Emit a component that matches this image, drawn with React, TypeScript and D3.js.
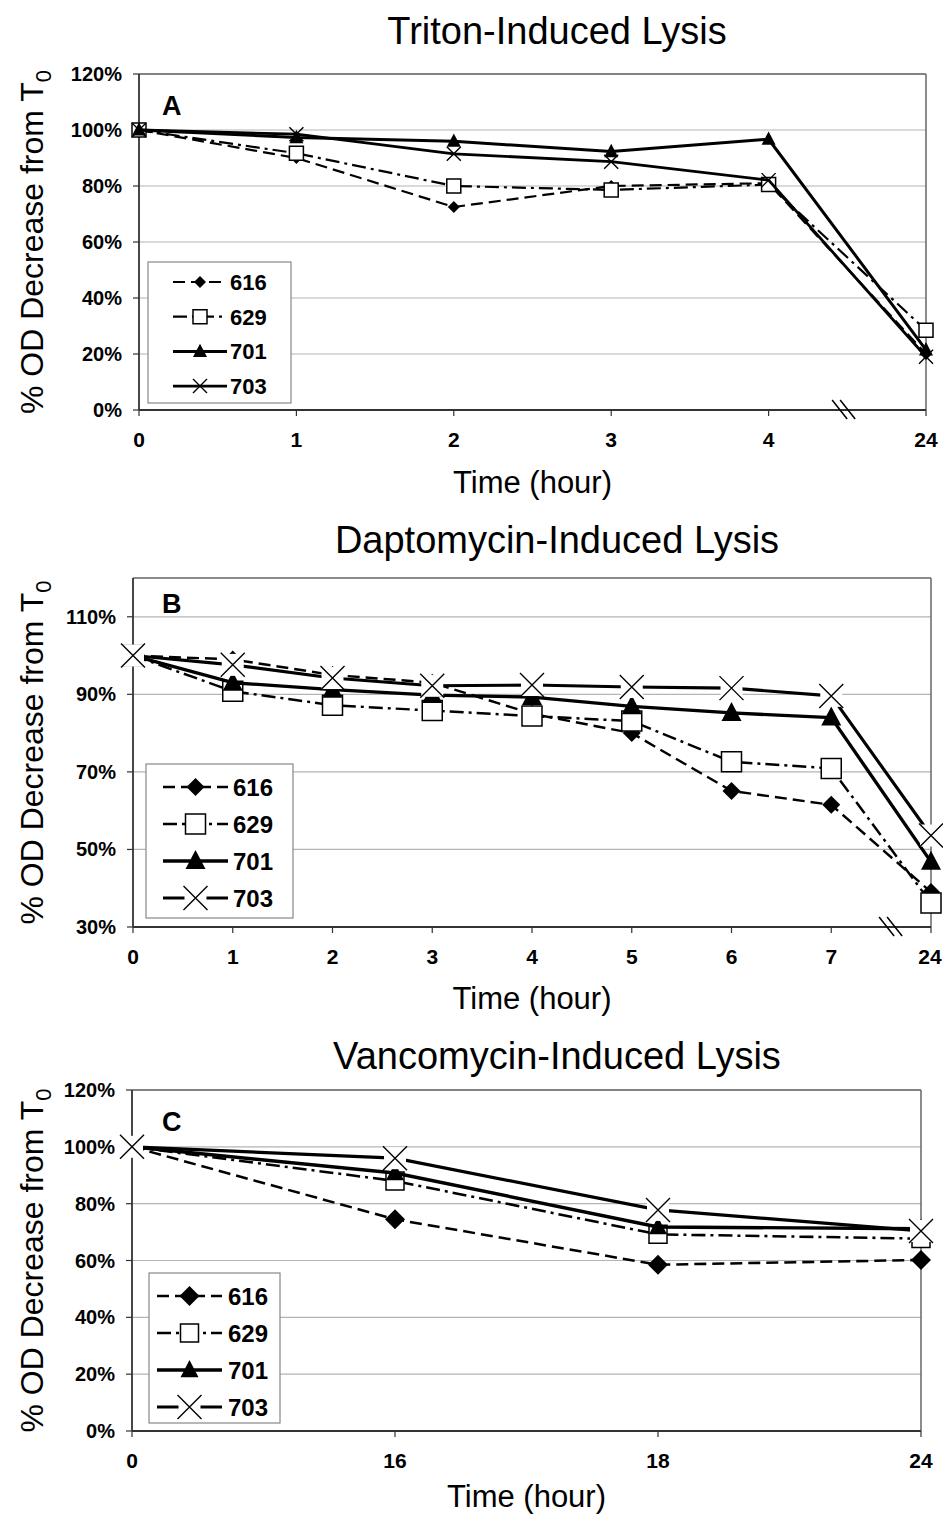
import * as d3 from "d3";

const W = 943;
const H = 1519;
const FONT = "'Liberation Sans', Arial, Helvetica, sans-serif";

// strains (legend order)
const strains = ["616", "629", "701", "703"];

// A: Triton-induced lysis
const timesA = ["0", "1", "2", "3", "4", "24"];
const triton616 = [100, 90, 72.5, 80, 81, 20];
const triton629 = [100, 91.7, 80, 78.6, 80.5, 28.5];
const triton701 = [100, 97.3, 96, 92.3, 96.7, 21.5];
const triton703 = [100, 98.5, 91.5, 88.7, 82.1, 19];

// B: Daptomycin-induced lysis
const timesB = ["0", "1", "2", "3", "4", "5", "6", "7", "24"];
const dapto616 = [100, 99, 95, 93, 85, 80, 65.1, 61.5, 39];
const dapto629 = [100, 90.8, 87.2, 85.8, 84.4, 83.1, 72.6, 70.9, 36.2];
const dapto701 = [100, 93, 91.2, 89.8, 89.3, 86.9, 85.2, 84, 46.8];
const dapto703 = [100, 97.6, 94.2, 92.2, 92.4, 91.9, 91.6, 89.6, 53.6];

// C: Vancomycin-induced lysis
const timesC = ["0", "16", "18", "24"];
const vanco616 = [100, 74.5, 58.5, 60.2];
const vanco629 = [100, 88, 69.2, 67.7];
const vanco701 = [100, 90.8, 71.8, 71.2];
const vanco703 = [100, 96, 77.8, 70.4];

const yTicksA = [0, 20, 40, 60, 80, 100, 120];
const yTicksB = [30, 50, 70, 90, 110];
const yTicksC = [0, 20, 40, 60, 80, 100, 120];

type Kind = "diamond" | "square" | "triangle" | "x";

// line / marker style per strain
const styles: { kind: Kind; dash: string; width: number }[] = [
  { kind: "diamond", dash: "12,6", width: 2.2 },
  { kind: "square", dash: "14,5,3,5", width: 2.2 },
  { kind: "triangle", dash: "", width: 3 },
  { kind: "x", dash: "", width: 2.8 },
];

function markerPath(kind: Kind, r: number) {
  if (kind === "diamond") return `M0,${-r}L${r},0L0,${r}L${-r},0Z`;
  if (kind === "square") return `M${-r},${-r}H${r}V${r}H${-r}Z`;
  if (kind === "triangle") return `M0,${-r * 1.1}L${r},${r * 0.8}L${-r},${r * 0.8}Z`;
  return `M${-r},${-r}L${r},${r}M${r},${-r}L${-r},${r}`;
}

function Marker({ kind, r, x, y, bg }: { kind: Kind; r: number; x: number; y: number; bg?: boolean }) {
  const d = markerPath(kind, r);
  const tr = `translate(${x},${y})`;
  if (kind === "square") return <path d={d} transform={tr} fill="#fff" stroke="#000" strokeWidth={1.5} />;
  if (kind === "x")
    return (
      <g transform={tr}>
        {bg && <rect x={-r + 1} y={-r + 1} width={2 * r - 2} height={2 * r - 2} fill="#fff" />}
        <path d={d} fill="none" stroke="#000" strokeWidth={1.4} />
      </g>
    );
  return <path d={d} transform={tr} fill="#000" stroke="none" />;
}

type PanelCfg = {
  title: string;
  letter: string;
  times: string[];
  series: number[][];
  yDomain: [number, number];
  yTicks: number[];
  box: { left: number; right: number; top: number; bottom: number };
  titleY: number;
  xTitleY: number;
  breakAt: number | null;
  breakFrac: number;
  markerR: number[];
  lineScale: number;
  xBg: boolean;
  legend: { x: number; y: number; w: number; h: number; row0: number; step: number; l0: number; l1: number; tx: number; fs: number };
};

const panels: PanelCfg[] = [
  {
    title: "Triton-Induced Lysis",
    letter: "A",
    times: timesA,
    series: [triton616, triton629, triton701, triton703],
    yDomain: [0, 120],
    yTicks: yTicksA,
    box: { left: 139, right: 926, top: 74, bottom: 410 },
    titleY: 44,
    xTitleY: 493,
    breakAt: 4,
    breakFrac: 0.48,
    markerR: [6, 7, 7, 7],
    lineScale: 1,
    xBg: false,
    legend: { x: 148, y: 262, w: 143, h: 141, row0: 282, step: 34.7, l0: 173, l1: 227, tx: 230, fs: 22 },
  },
  {
    title: "Daptomycin-Induced Lysis",
    letter: "B",
    times: timesB,
    series: [dapto616, dapto629, dapto701, dapto703],
    yDomain: [30, 120],
    yTicks: yTicksB,
    box: { left: 133, right: 931, top: 578, bottom: 927 },
    titleY: 553,
    xTitleY: 1009,
    breakAt: 7,
    breakFrac: 0.6,
    markerR: [9, 10, 10, 12],
    lineScale: 1.12,
    xBg: true,
    legend: { x: 146, y: 764, w: 147, h: 154, row0: 787, step: 37, l0: 163, l1: 228, tx: 233, fs: 24 },
  },
  {
    title: "Vancomycin-Induced Lysis",
    letter: "C",
    times: timesC,
    series: [vanco616, vanco629, vanco701, vanco703],
    yDomain: [0, 120],
    yTicks: yTicksC,
    box: { left: 132, right: 921, top: 1090, bottom: 1431 },
    titleY: 1069,
    xTitleY: 1507,
    breakAt: null,
    breakFrac: 0,
    markerR: [10, 9, 9, 12],
    lineScale: 1.15,
    xBg: true,
    legend: { x: 149, y: 1273, w: 131, h: 150, row0: 1296, step: 37, l0: 157, l1: 222, tx: 228, fs: 24 },
  },
];

function Panel({ cfg }: { cfg: PanelCfg }) {
  const { box, legend } = cfg;
  const x = d3.scalePoint<string>().domain(cfg.times).range([box.left, box.right]).padding(0);
  const y = d3.scaleLinear().domain(cfg.yDomain).range([box.bottom, box.top]);
  const line = d3
    .line<number>()
    .x((_, i) => x(cfg.times[i]) as number)
    .y((d) => y(d));
  const cx = (box.left + box.right) / 2;
  const cy = (box.top + box.bottom) / 2;

  let brk: { bx: number; by: number } | null = null;
  if (cfg.breakAt !== null) {
    const i = cfg.breakAt;
    const x0 = x(cfg.times[i]) as number;
    const x1 = x(cfg.times[i + 1]) as number;
    brk = { bx: x0 + (x1 - x0) * cfg.breakFrac, by: box.bottom };
  }

  return (
    <g>
      <text x={557} y={cfg.titleY} textAnchor="middle" fontSize={38} fontFamily={FONT}>
        {cfg.title}
      </text>
      {/* grid */}
      {cfg.yTicks.map((t) => (
        <line key={"g" + t} x1={box.left} x2={box.right} y1={y(t)} y2={y(t)} stroke="#b4b4b4" strokeWidth={1.2} />
      ))}
      {/* frame */}
      <line x1={box.left} x2={box.right} y1={box.top} y2={box.top} stroke="#666" strokeWidth={1.5} />
      <line x1={box.right} x2={box.right} y1={box.top} y2={box.bottom} stroke="#666" strokeWidth={1.5} />
      <line x1={box.left} x2={box.left} y1={box.top} y2={box.bottom} stroke="#333" strokeWidth={1.8} />
      <line x1={box.left} x2={box.right} y1={box.bottom} y2={box.bottom} stroke="#333" strokeWidth={1.8} />
      {/* y ticks */}
      {cfg.yTicks.map((t) => (
        <g key={"yt" + t}>
          <line x1={box.left - 6} x2={box.left} y1={y(t)} y2={y(t)} stroke="#333" strokeWidth={1.2} />
          <text x={box.left - 17} y={y(t) + 7} textAnchor="end" fontSize={20} fontWeight="bold" fontFamily={FONT}>
            {t + "%"}
          </text>
        </g>
      ))}
      {/* x ticks */}
      {cfg.times.map((t) => (
        <g key={"xt" + t}>
          <line x1={x(t)} x2={x(t)} y1={box.bottom} y2={box.bottom + 6} stroke="#333" strokeWidth={1.2} />
          <text
            x={Math.min(x(t) as number, W - 13)}
            y={box.bottom + 37}
            textAnchor="middle"
            fontSize={21}
            fontWeight="bold"
            fontFamily={FONT}
          >
            {t}
          </text>
        </g>
      ))}
      {brk && (
        <g stroke="#000" strokeWidth={1.5}>
          <line x1={brk.bx - 12} y1={brk.by - 10} x2={brk.bx + 3} y2={brk.by + 9} />
          <line x1={brk.bx - 4} y1={brk.by - 10} x2={brk.bx + 11} y2={brk.by + 9} />
        </g>
      )}
      <text x={cx} y={cfg.xTitleY} textAnchor="middle" fontSize={31} fontFamily={FONT}>
        Time (hour)
      </text>
      <text transform={`translate(43,${cy}) rotate(-90)`} textAnchor="middle" fontSize={32} fontFamily={FONT}>
        % OD Decrease from T
        <tspan fontSize={22} dy={8}>
          0
        </tspan>
      </text>
      <text x={162} y={box.top + (cfg.letter === "B" ? 35 : 41)} fontSize={27} fontWeight="bold" fontFamily={FONT}>
        {cfg.letter}
      </text>
      {/* series */}
      {cfg.series.map((vals, si) => {
        const st = styles[si];
        return (
          <g key={"s" + si}>
            <path
              d={line(vals) as string}
              fill="none"
              stroke="#000"
              strokeWidth={st.width * cfg.lineScale}
              strokeDasharray={st.dash || undefined}
              strokeLinejoin="round"
            />
            {vals.map((v, i) => (
              <Marker
                key={i}
                kind={st.kind}
                r={cfg.markerR[si]}
                x={x(cfg.times[i]) as number}
                y={y(v)}
                bg={cfg.xBg}
              />
            ))}
          </g>
        );
      })}
      {/* legend */}
      <rect x={legend.x} y={legend.y} width={legend.w} height={legend.h} fill="#fff" stroke="#888" strokeWidth={1.2} />
      {strains.map((s, i) => {
        const st = styles[i];
        const ly = legend.row0 + i * legend.step;
        return (
          <g key={"l" + s}>
            <line
              x1={legend.l0}
              x2={legend.l1}
              y1={ly}
              y2={ly}
              stroke="#000"
              strokeWidth={st.width * cfg.lineScale}
              strokeDasharray={st.dash || undefined}
            />
            <Marker kind={st.kind} r={cfg.markerR[i]} x={(legend.l0 + legend.l1) / 2} y={ly} bg={cfg.xBg} />
            <text x={legend.tx} y={ly + legend.fs * 0.36} fontSize={legend.fs} fontWeight="bold" fontFamily={FONT}>
              {s}
            </text>
          </g>
        );
      })}
    </g>
  );
}

export default function App() {
  return (
    <svg
      width={W}
      height={H}
      viewBox={`0 0 ${W} ${H}`}
      style={{ position: "absolute", left: 0, top: 0, display: "block", background: "#fff" }}
    >
      <rect width={W} height={H} fill="#fff" />
      {panels.map((p) => (
        <Panel key={p.letter} cfg={p} />
      ))}
    </svg>
  );
}
